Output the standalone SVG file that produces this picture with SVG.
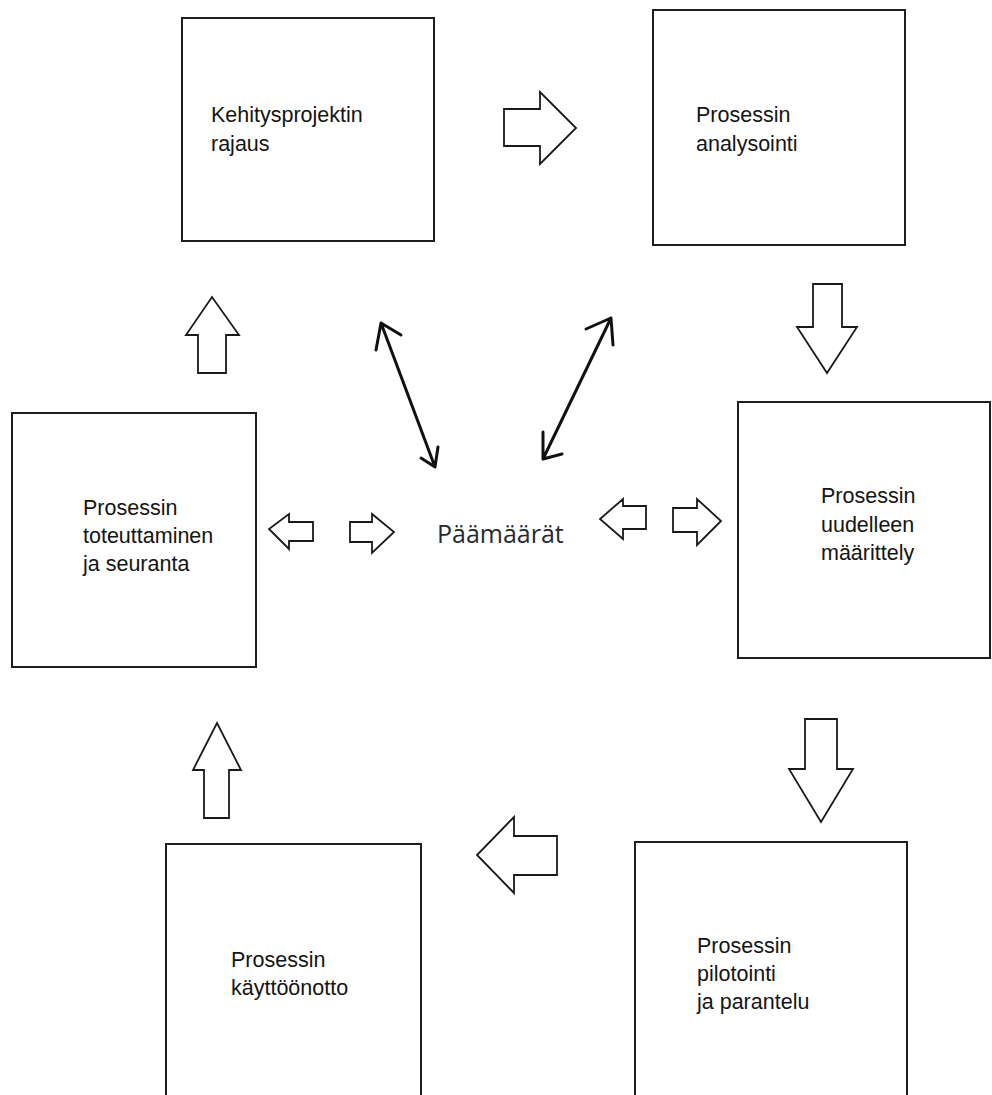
<svg xmlns="http://www.w3.org/2000/svg" width="992" height="1095" viewBox="0 0 992 1095">
  <style>
    .box { fill: #ffffff; stroke: #1e1e1e; stroke-width: 2; }
    .lbl { font-family: "Liberation Sans", Arial, sans-serif; font-size: 21.5px; fill: #141414; }
    .goal { font-family: "Open Sans", "Liberation Sans", sans-serif; font-size: 25px; fill: #262b33; }
    .blk { fill: #ffffff; stroke: #1a1a1a; stroke-width: 1.8; stroke-linejoin: miter; }
    .dbl { fill: none; stroke: #111111; stroke-width: 3; stroke-linecap: round; stroke-linejoin: round; }
  </style>
  <rect width="992" height="1095" fill="#ffffff"/>

  <!-- process steps -->
  <g id="node-rajaus">
    <rect class="box" x="182" y="18" width="252" height="223"/>
    <text class="lbl" x="211" y="122">Kehitysprojektin</text>
    <text class="lbl" x="211" y="151">rajaus</text>
  </g>
  <g id="node-analysointi">
    <rect class="box" x="653" y="10" width="252" height="235"/>
    <text class="lbl" x="696" y="122">Prosessin</text>
    <text class="lbl" x="696" y="151">analysointi</text>
  </g>
  <g id="node-toteuttaminen">
    <rect class="box" x="12" y="413" width="244" height="254"/>
    <text class="lbl" x="83" y="515">Prosessin</text>
    <text class="lbl" x="83" y="543">toteuttaminen</text>
    <text class="lbl" x="83" y="571">ja seuranta</text>
  </g>
  <g id="node-paamaarat">
    <text class="goal" x="437" y="543">Päämäärät</text>
  </g>
  <g id="node-maarittely">
    <rect class="box" x="738" y="402" width="252" height="256"/>
    <text class="lbl" x="821" y="503">Prosessin</text>
    <text class="lbl" x="821" y="532">uudelleen</text>
    <text class="lbl" x="821" y="560">määrittely</text>
  </g>
  <g id="node-kayttoonotto">
    <rect class="box" x="166" y="844" width="255" height="260"/>
    <text class="lbl" x="231" y="967">Prosessin</text>
    <text class="lbl" x="231" y="995">käyttöönotto</text>
  </g>
  <g id="node-pilotointi">
    <rect class="box" x="635" y="842" width="272" height="262"/>
    <text class="lbl" x="697" y="953">Prosessin</text>
    <text class="lbl" x="697" y="981">pilotointi</text>
    <text class="lbl" x="697" y="1009">ja parantelu</text>
  </g>

  <!-- connectors -->
  <g id="connectors">
    <!-- cycle block arrows -->
    <polygon class="blk" points="504,109 540,109 540,92 576,128 540,164 540,146 504,146"/>
    <polygon class="blk" points="813,284 842,284 842,327 857,327 827,373 797,327 813,327"/>
    <polygon class="blk" points="805,719 837,719 837,769 853,769 821,822 789,769 805,769"/>
    <polygon class="blk" points="557,836 557,875 514,875 514,893 477,855 514,817 514,836"/>
    <polygon class="blk" points="204,818 229,818 229,770 241,770 217,723 193,770 204,770"/>
    <polygon class="blk" points="198,373 226,373 226,335 239,335 212,297 186,335 198,335"/>

    <!-- small arrows around the goals -->
    <polygon class="blk" points="313,522 313,541 289,541 289,549 269,529 289,514 289,522"/>
    <polygon class="blk" points="350,522 372,522 372,514 394,532 372,553 372,542 350,542"/>
    <polygon class="blk" points="646,506 646,529 623,529 623,539 600,519 623,499 623,506"/>
    <polygon class="blk" points="673,508 697,508 697,499 721,521 697,545 697,532 673,532"/>

    <!-- two-way links to the goals -->
    <path class="dbl" d="M381,323 L435,467 M376,350 L381,323 L401,335 M421,458 L435,467 L438,447"/>
    <path class="dbl" d="M611,318 L543,459 M586,329 L611,318 L613,345 M543,432 L543,459 L562,454"/>
  </g>
</svg>
